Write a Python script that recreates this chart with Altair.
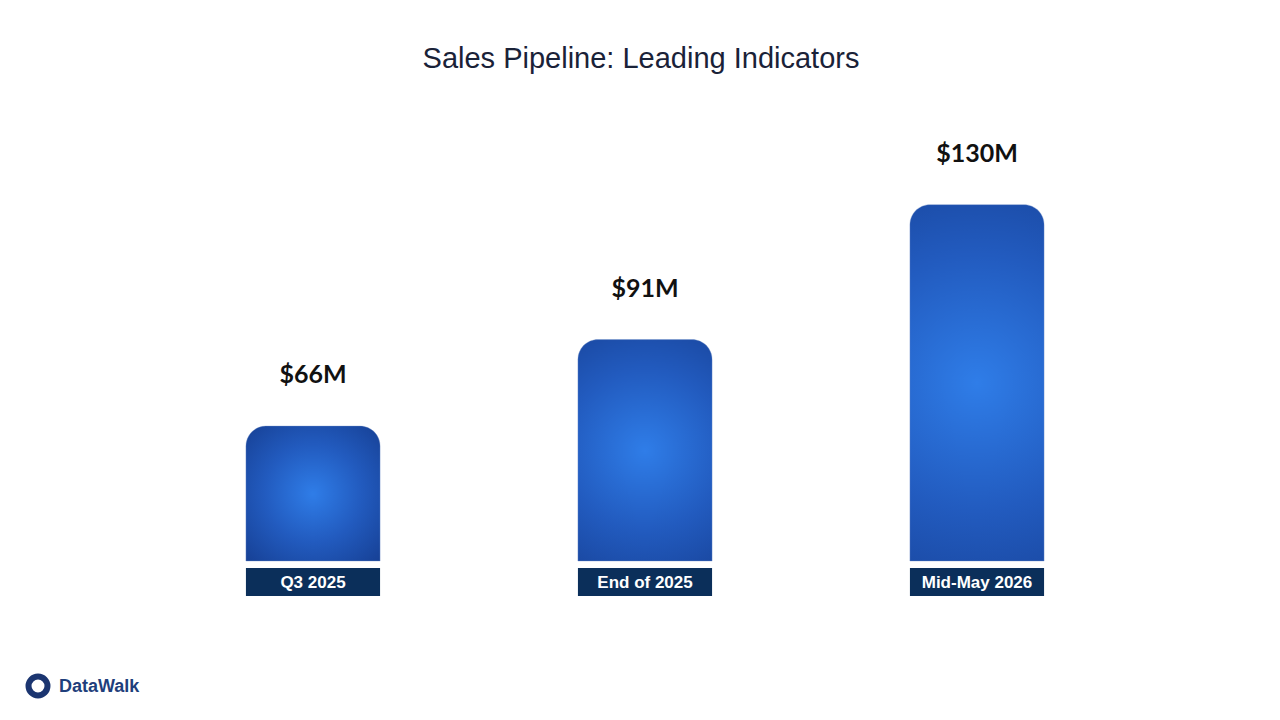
import altair as alt
import pandas as pd

categories = ["Q3 2025", "End of 2025", "Mid-May 2026"]
values = [66, 91, 130]
value_labels = ["$66M", "$91M", "$130M"]

df = pd.DataFrame({"cat": categories, "val": values, "lab": value_labels})

x_enc = alt.X("cat:N", sort=categories, axis=None,
              scale=alt.Scale(paddingInner=0.596, paddingOuter=0.298))
y_scale = alt.Scale(domain=[27, 151], zero=False, nice=False)

grad = alt.Gradient(
    gradient="radial",
    stops=[alt.GradientStop(color="#2f7de8", offset=0),
           alt.GradientStop(color="#225bbf", offset=0.5),
           alt.GradientStop(color="#163f93", offset=1)],
    x1=0.5, y1=0.5, r1=0, x2=0.5, y2=0.5, r2=0.72,
)

base = alt.Chart(df)

bars = base.mark_bar(color=grad, cornerRadiusTopLeft=20, cornerRadiusTopRight=20,
                     stroke="#6f8fc8", strokeWidth=0.6, strokeOpacity=0.6).encode(
    x=x_enc,
    y=alt.Y("val:Q", scale=y_scale, axis=None),
    y2=alt.datum(27),
)

labels = base.mark_text(font="Lato", fontWeight="bold", fontSize=25, color="#111111",
                        baseline="middle", dy=-51).encode(
    x=x_enc,
    y=alt.Y("val:Q", scale=y_scale),
    text="lab:N",
)

boxes = base.mark_bar(color="#0b2f5a").encode(
    x=x_enc,
    y=alt.value(436),
    y2=alt.value(464),
)

box_text = base.mark_text(font="Liberation Sans", fontWeight="bold", fontSize=17,
                          color="white", baseline="middle").encode(
    x=x_enc,
    y=alt.value(451),
    text="cat:N",
)

logo_df = pd.DataFrame({"name": ["DataWalk"]})
logo_ring = alt.Chart(logo_df).mark_point(shape="circle", filled=False, stroke="#1b3570",
                                          strokeWidth=6, size=360, opacity=1).encode(
    x=alt.value(-109), y=alt.value(554))
logo_text = alt.Chart(logo_df).mark_text(font="Liberation Sans", fontWeight="bold", fontSize=18,
                                         color="#1f3f7c", align="left", baseline="middle").encode(
    x=alt.value(-88), y=alt.value(555), text="name:N")

chart = alt.layer(bars, labels, boxes, box_text, logo_ring, logo_text).properties(
    width=996,
    height=429,
    title=alt.TitleParams("Sales Pipeline: Leading Indicators", font="Liberation Sans",
                          fontSize=29, fontWeight="normal", color="#1a2238",
                          anchor="middle", frame="group", baseline="middle", offset=44,
                          dx=-4),
    autosize=alt.AutoSizeParams(type="none"),
    padding={"left": 139, "top": 124, "right": 129, "bottom": 151},
    background="white",
).configure_view(stroke=None)

chart.save("out.html", embed_options={"renderer": "svg", "actions": False})
